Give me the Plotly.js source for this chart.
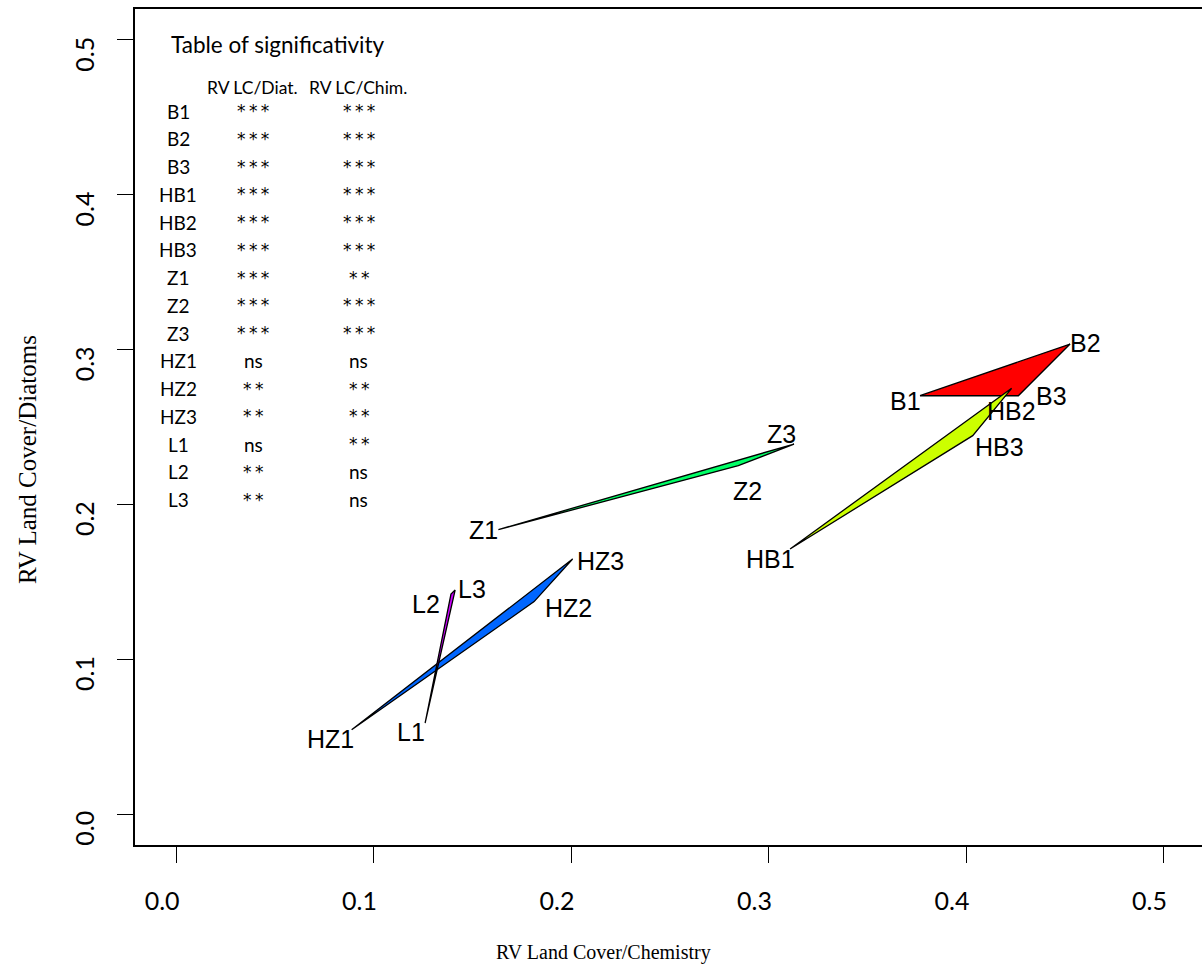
<!DOCTYPE html>
<html><head><meta charset="utf-8">
<script src="https://cdn.plot.ly/plotly-3.0.1.min.js"></script>
<style>html,body{margin:0;padding:0;background:#fff}</style>
</head><body><div id="chart" style="width:1202px;height:967px"></div>
<script>
// ---- data ----
const groups = ["B", "HB", "Z", "HZ", "L"];
const groupColors = ["#FF0000", "#CCFF00", "#00FF66", "#0066FF", "#CC00FF"];
// RV Land Cover/Chemistry (x) and RV Land Cover/Diatoms (y) for vertices 1,2,3
const rvChemB  = [0.3767, 0.4527, 0.4265];
const rvDiatB  = [0.2702, 0.3036, 0.2702];
const rvChemHB = [0.3109, 0.4231, 0.4034];
const rvDiatHB = [0.1712, 0.2750, 0.2444];
const rvChemZ  = [0.1632, 0.2847, 0.3129];
const rvDiatZ  = [0.1837, 0.2250, 0.2390];
const rvChemHZ = [0.0889, 0.1813, 0.2008];
const rvDiatHZ = [0.0545, 0.1372, 0.1647];
const rvChemL  = [0.1261, 0.1392, 0.1413];
const rvDiatL  = [0.0588, 0.1421, 0.1447];

const rowNames = ["B1","B2","B3","HB1","HB2","HB3","Z1","Z2","Z3","HZ1","HZ2","HZ3","L1","L2","L3"];
const sigDiat  = ["***","***","***","***","***","***","***","***","***","ns","**","**","ns","**","**"];
const sigChim  = ["***","***","***","***","***","***","**","***","***","ns","**","**","**","ns","ns"];

const xTickVals = [0, 0.1, 0.2, 0.3, 0.4, 0.5];
const xTickText = ["0.0", "0.1", "0.2", "0.3", "0.4", "0.5"];
const yTickVals = [0, 0.1, 0.2, 0.3, 0.4, 0.5];
const yTickText = ["0.0", "0.1", "0.2", "0.3", "0.4", "0.5"];

// ---- styles / placement (pixels) ----
const labelShift = { // [dx, dy] of label centre from vertex, screen px
  B1:[-14,5], B2:[15,-1], B3:[33,0],
  HB1:[-20,10], HB2:[0,23], HB3:[27,11],
  Z1:[-15,0], Z2:[9,25], Z3:[-13,-10],
  HZ1:[-21,9], HZ2:[34,6], HZ3:[28,2],
  L1:[-14,9], L2:[-25,10], L3:[17,-1]
};

const xs = {B: rvChemB, HB: rvChemHB, Z: rvChemZ, HZ: rvChemHZ, L: rvChemL};
const ys = {B: rvDiatB, HB: rvDiatHB, Z: rvDiatZ, HZ: rvDiatHZ, L: rvDiatL};

const traces = [];
const annotations = [];
const labelFont = {family: "Liberation Sans, Arial, sans-serif", size: 25, color: "#000"};

groups.forEach((g, i) => {
  traces.push({
    type: "scatter", mode: "lines",
    x: xs[g].concat([xs[g][0]]), y: ys[g].concat([ys[g][0]]),
    fill: "toself", fillcolor: groupColors[i],
    line: {color: "#000", width: 1.3},
    hoverinfo: "skip", showlegend: false
  });
  xs[g].forEach((xv, k) => {
    const name = g + (k + 1);
    const s = labelShift[name];
    annotations.push({
      x: xv, y: ys[g][k], xref: "x", yref: "y", text: name, showarrow: false,
      xanchor: "center", yanchor: "middle", xshift: s[0], yshift: -s[1],
      font: labelFont
    });
  });
});

// table of significativity
const tabFont = {family: "Lato, Open Sans, sans-serif", size: 19, color: "#000"};
const starFont = {family: "DejaVu Sans, sans-serif", size: 17, color: "#000"};
const spaced = s => s === "ns" ? s : s.split("").join("\u2009");
const rowTop = 0.4541, rowStep = 0.01793;
const colName = 0.001, colDiat = 0.039, colChim = 0.0925;
annotations.push({x: -0.0035, y: 0.4970, xref: "x", yref: "y", text: "Table of significativity",
  showarrow: false, xanchor: "left", yanchor: "middle", font: {family: "Lato, sans-serif", size: 22.5, color: "#000"}});
annotations.push({x: 0.0385, y: 0.4695, xref: "x", yref: "y", text: "RV LC/Diat.",
  showarrow: false, xanchor: "center", yanchor: "middle", font: {family: "Lato, sans-serif", size: 17.5, color: "#000"}});
annotations.push({x: 0.0919, y: 0.4695, xref: "x", yref: "y", text: "RV LC/Chim.",
  showarrow: false, xanchor: "center", yanchor: "middle", font: {family: "Lato, sans-serif", size: 17.5, color: "#000"}});
rowNames.forEach((r, i) => {
  const yy = rowTop - i * rowStep;
  const fD = sigDiat[i] === "ns" ? tabFont : starFont;
  const fC = sigChim[i] === "ns" ? tabFont : starFont;
  annotations.push({x: colName, y: yy, xref: "x", yref: "y", text: r, showarrow: false, xanchor: "center", yanchor: "middle", font: tabFont});
  annotations.push({x: colDiat, y: yy, xref: "x", yref: "y", text: spaced(sigDiat[i]), showarrow: false, xanchor: "center", yanchor: "middle", font: fD});
  annotations.push({x: colChim, y: yy, xref: "x", yref: "y", text: spaced(sigChim[i]), showarrow: false, xanchor: "center", yanchor: "middle", font: fC});
});

// axis titles
annotations.push({x: 0.4395, y: -0.129, xref: "paper", yref: "paper", text: "RV Land Cover/Chemistry",
  showarrow: false, xanchor: "center", yanchor: "middle", font: {family: "Liberation Serif, Times New Roman, serif", size: 20, color: "#000"}});
annotations.push({x: -0.1012, y: 0.4605, xref: "paper", yref: "paper", text: "RV Land Cover/Diatoms", textangle: -90,
  showarrow: false, xanchor: "center", yanchor: "middle", font: {family: "Liberation Serif, Times New Roman, serif", size: 25, color: "#000"}});

const tickFont = {family: "Lato, Open Sans, sans-serif", size: 25, color: "#000"};
const layout = {
  width: 1202, height: 967,
  margin: {l: 135, r: 0, t: 9, b: 122, pad: 0},
  paper_bgcolor: "#fff", plot_bgcolor: "#fff",
  showlegend: false,
  xaxis: {
    range: [-0.0208, 0.5195], tickvals: xTickVals, ticktext: xTickText,
    ticks: "outside", ticklen: 16, tickwidth: 1, tickcolor: "#000",
    showline: true, linewidth: 2, linecolor: "#000", mirror: true,
    showgrid: false, zeroline: false, tickfont: tickFont,
    ticklabelshift: -14, ticklabelstandoff: 17
  },
  yaxis: {
    range: [-0.02, 0.52], tickvals: yTickVals, ticktext: yTickText,
    ticks: "outside", ticklen: 16, tickwidth: 1, tickcolor: "#000",
    showline: true, linewidth: 2, linecolor: "#000", mirror: false,
    showgrid: false, zeroline: false, tickfont: tickFont, tickangle: -90,
    ticklabelshift: 18, ticklabelstandoff: 13
  },
  annotations: annotations
};
Plotly.newPlot("chart", traces, layout, {displayModeBar: false, staticPlot: true});
</script></body></html>
